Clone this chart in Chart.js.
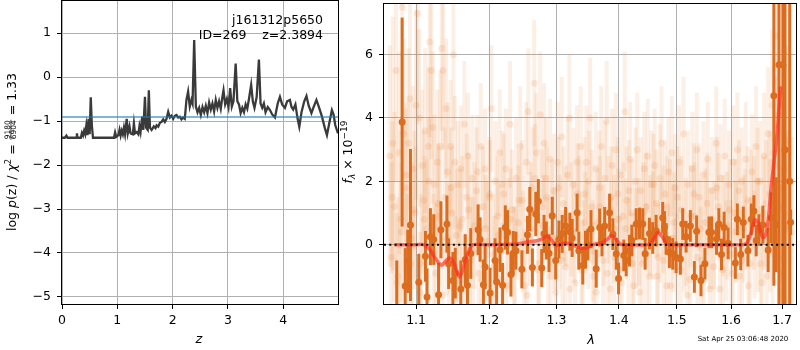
<!DOCTYPE html>
<html>
<head>
<meta charset="utf-8">
<script src="https://cdn.jsdelivr.net/npm/chart.js@4/dist/chart.umd.min.js"></script>
<style>
  body { margin: 0; background: #fff; }
  #wrap { position: relative; width: 800px; height: 350px; }
  canvas { position: absolute; top: 0; }
  #pz { left: 0; }
  #spec { left: 340px; }
</style>
</head>
<body>
<div id="wrap">
  <canvas id="pz" width="340" height="350"></canvas>
  <canvas id="spec" width="460" height="350"></canvas>
</div>
<script>
// redshift probability, log p(z)
const zGrid = [0.00, 0.05, 0.08, 0.10, 0.20, 0.26, 0.27, 0.28, 0.34, 0.36, 0.38, 0.40, 0.42, 0.44, 0.46, 0.48, 0.50, 0.52, 0.54, 0.56,
  0.62, 0.80, 0.90, 0.94, 0.96, 0.98, 1.02, 1.04, 1.06, 1.08, 1.10, 1.12, 1.14, 1.17, 1.19, 1.22, 1.24, 1.28, 1.30, 1.32,
  1.35, 1.38, 1.40, 1.42, 1.45, 1.47, 1.50, 1.52, 1.55, 1.57,
  1.59, 1.62, 1.66, 1.69, 1.71, 1.74, 1.77, 1.80, 1.83, 1.86, 1.89, 1.92, 1.95, 1.98, 2.01, 2.04, 2.07, 2.10, 2.13, 2.16,
  2.19, 2.22, 2.25, 2.28, 2.31, 2.34, 2.36, 2.39, 2.42, 2.45, 2.48, 2.51, 2.54, 2.57, 2.60, 2.63, 2.66, 2.69, 2.72, 2.75,
  2.78, 2.81, 2.84, 2.87, 2.90, 2.92, 2.95, 2.98, 3.01, 3.04, 3.07, 3.10, 3.14, 3.17, 3.20, 3.23, 3.26, 3.29, 3.32, 3.35,
  3.38, 3.42, 3.45, 3.48, 3.52, 3.56, 3.59, 3.62, 3.65, 3.68, 3.72, 3.76, 3.80, 3.85, 3.90, 3.94, 3.98, 4.03, 4.07, 4.12,
  4.15, 4.18, 4.22, 4.26, 4.29, 4.33, 4.38, 4.42, 4.46, 4.51, 4.55, 4.60, 4.65, 4.70, 4.75, 4.79, 4.84, 4.88, 4.91, 4.94, 4.99];
const logPz = [-1.38, -1.38, -1.33, -1.38, -1.38, -1.38, -1.28, -1.38, -1.38, -1.27, -1.33, -1.22, -1.30, -1.10, -1.32, -0.95, -1.30, -0.46, -1.10, -1.38,
  -1.38, -1.38, -1.38, -1.38, -1.26, -1.36, -1.32, -1.20, -1.33, -1.22, -1.30, -1.15, -1.30, -0.95, -1.28, -1.12, -1.28, -1.30, -1.05, -1.28,
  -1.25, -1.30, -1.12, -1.25, -0.90, -1.20, -0.45, -1.15, -1.20, -0.30,
  -1.15, -1.20, -1.12, -1.16, -1.10, -1.13, -1.04, -1.02, -0.96, -1.02, -0.95, -0.79, -0.92, -0.88, -0.95, -0.88, -0.86, -0.92, -0.90, -0.96,
  -0.92, -0.95, -0.52, -0.33, -0.67, -0.52, -0.60, 0.84, -0.67, -0.80, -0.70, -0.86, -0.68, -0.80, -0.65, -0.82, -0.58, -0.74, -0.60, -0.78,
  -0.52, -0.70, -0.55, -0.72, -0.45, -0.30, -0.62, -0.50, -0.68, -0.25, -0.67, -0.55, 0.31, -0.55, -0.62, -0.82, -0.70, -0.80, -0.62, -0.72,
  -0.50, -0.18, -0.55, -0.70, -0.45, 0.40, -0.60, -0.70, -0.60, -0.80, -0.68, -0.75, -0.85, -0.92, -0.60, -0.45, -0.62, -0.70, -0.55, -0.52,
  -0.68, -0.74, -0.62, -0.95, -1.13, -0.80, -0.55, -0.43, -0.65, -0.82, -0.68, -0.52, -0.70, -0.90, -1.15, -1.32, -1.00, -0.75, -0.85, -1.09, -1.28];
const chi2Level = -0.91;
const zTicks = [0, 1, 2, 3, 4];
const logPTicks = [-5, -4, -3, -2, -1, 0, 1];

// spectrum: individual exposures (faint) and combined points
const faintLam = [1.066, 1.068, 1.070, 1.072, 1.074, 1.076, 1.078, 1.080, 1.082, 1.084, 1.086, 1.088, 1.090, 1.092, 1.094, 1.096, 1.098, 1.100,
  1.102, 1.104, 1.106, 1.108, 1.110, 1.112, 1.114, 1.116, 1.118, 1.120, 1.122, 1.124, 1.126, 1.128, 1.130, 1.132, 1.134, 1.136, 1.138, 1.140,
  1.142, 1.144, 1.146, 1.148, 1.150, 1.152, 1.154, 1.156, 1.158, 1.160, 1.162, 1.165, 1.168, 1.170, 1.173, 1.176, 1.179, 1.182, 1.185, 1.188,
  1.191, 1.194, 1.197, 1.200, 1.203, 1.206, 1.209, 1.212, 1.215, 1.218, 1.221, 1.224, 1.227, 1.230, 1.233, 1.236, 1.239, 1.242, 1.245, 1.248,
  1.251, 1.254, 1.257, 1.260, 1.263, 1.266, 1.269, 1.272, 1.275, 1.278, 1.281, 1.284, 1.287, 1.290, 1.293, 1.296, 1.299, 1.302, 1.305, 1.308,
  1.311, 1.314, 1.317, 1.320, 1.323, 1.326, 1.329, 1.332, 1.335, 1.338, 1.341, 1.344, 1.347, 1.350, 1.353, 1.356, 1.359, 1.362, 1.365, 1.368,
  1.371, 1.374, 1.377, 1.380, 1.383, 1.386, 1.389, 1.392, 1.395, 1.398, 1.401, 1.404, 1.407, 1.410, 1.413, 1.416, 1.419, 1.422, 1.425, 1.428,
  1.431, 1.434, 1.437, 1.440, 1.443, 1.446, 1.449, 1.452, 1.455, 1.458, 1.461, 1.464, 1.467, 1.470, 1.473, 1.476, 1.479, 1.482, 1.485, 1.488,
  1.491, 1.494, 1.497, 1.500, 1.504, 1.508, 1.512, 1.516, 1.520, 1.524, 1.528, 1.532, 1.536, 1.540, 1.544, 1.548, 1.552, 1.556, 1.560, 1.564,
  1.568, 1.572, 1.576, 1.580, 1.584, 1.588, 1.592, 1.596, 1.600, 1.604, 1.608, 1.612, 1.616, 1.620, 1.624, 1.628, 1.632, 1.636, 1.640, 1.644,
  1.648, 1.652, 1.656, 1.660, 1.664, 1.668, 1.672, 1.676, 1.680, 1.684, 1.688, 1.692, 1.696, 1.700, 1.704, 1.708, 1.712, 1.716, 1.720];
const faintFlux = [2.8, -0.4, 3.2, 1.2, 5.5, -1.0, 2.9, 0.8, 7.5, 3.5, 1.8, -0.8, 3.2, 4.6, 0.2, 2.4, 1.1, 4.4,
  7.3, 4.0, -0.6, 2.5, 1.4, 3.6, 0.5, 3.1, 6.4, 5.5, 3.7, 1.9, -0.9, 2.6, 0.9, 3.1, 6.2, 5.5, 1.5, 4.3,
  2.3, -0.2, 3.1, 1.0, 6.0, 2.6, 0.3, 1.9, -1.2, 2.4, 0.8, 3.8, 1.5, 2.8, -0.5, 2.1, 0.6, 1.7, -0.9, 3.1,
  1.2, 2.4, 0.1, 1.5, 4.3, -0.3, 2.0, 0.9, 2.9, -1.1, 1.6, 2.4, 0.3, 3.8, 1.1, -0.6, 2.1, 0.7, 3.1, 1.4,
  -1.3, 2.6, 4.2, 0.5, 1.8, 5.1, 2.9, -0.8, 4.1, 1.2, 3.2, 2.1, -0.3, 2.7, 0.9, 1.7, -1.5, 2.6, 0.4, 3.4,
  1.3, -0.7, 2.2, 4.0, 0.8, 1.9, -1.2, 2.6, 1.0, 3.1, -0.3, 1.6, 2.6, 0.3, 4.0, 1.2, -1.0, 2.4, 0.7, 1.8,
  3.1, -0.5, 2.1, 3.9, 1.1, -1.4, 2.5, 0.5, 3.0, 1.6, -0.8, 2.2, 0.9, 4.2, 1.4, -0.2, 2.7, 1.0, -1.3, 2.0,
  3.0, 0.4, 1.7, -0.6, 2.4, 1.2, 2.8, -1.0, 1.9, 0.6, 2.5, 1.3, -0.4, 2.1, 3.2, 0.8, 1.6, -1.3, 2.3, 1.0,
  2.9, 0.2, 1.8, -0.7, 2.6, 1.1, 3.5, 0.4, 1.9, -1.1, 2.4, 0.9, 3.0, 1.5, -0.5, 2.2, 0.7, 2.7, -1.4, 1.7,
  0.3, 3.2, 1.2, 2.1, -0.8, 2.8, 0.6, 1.9, -0.3, 2.6, 1.0, 3.0, -1.0, 2.0, 0.5, 2.7, 1.4, -0.6, 2.3, 1.0,
  3.1, 0.3, 2.0, -1.2, 2.8, 1.3, 3.5, 0.6, 4.4, 2.9, 6.6, 4.1, 1.8, -0.9, 2.4, 0.5, 3.3, 1.0, 0.4];
const faintErr = [3.5, 3.0, 4.0, 3.0, 3.5, 2.5, 3.2, 2.8, 4.0, 3.0, 2.5, 2.4, 3.0, 3.5, 2.4, 2.6, 2.5, 3.0,
  3.5, 2.8, 2.2, 2.4, 2.2, 2.6, 2.2, 2.5, 3.0, 2.8, 2.4, 2.2, 2.2, 2.3, 2.2, 2.4, 2.6, 2.5, 2.2, 2.2,
  2.2, 2.1, 2.1, 2.1, 2.4, 2.1, 2.1, 2.0, 2.0, 2.0, 2.0, 2.0, 2.0, 2.0, 2.0, 2.0, 2.0, 2.0, 1.9, 2.0,
  1.9, 1.9, 1.9, 1.9, 2.0, 1.9, 1.9, 1.9, 2.0, 1.8, 1.9, 1.9, 1.8, 2.0, 1.9, 1.8, 1.9, 1.8, 1.9, 1.9,
  1.8, 1.9, 2.0, 1.8, 1.9, 2.0, 1.9, 1.8, 2.0, 1.8, 1.9, 1.9, 1.8, 1.9, 1.8, 1.8, 1.8, 1.9, 1.8, 1.9,
  1.8, 1.8, 1.8, 2.0, 1.8, 1.8, 1.7, 1.8, 1.8, 1.9, 1.7, 1.8, 1.8, 1.7, 1.9, 1.8, 1.7, 1.8, 1.7, 1.8,
  1.9, 1.7, 1.8, 1.9, 1.7, 1.7, 1.8, 1.7, 1.8, 1.8, 1.7, 1.8, 1.7, 1.9, 1.7, 1.7, 1.8, 1.7, 1.7, 1.7,
  1.8, 1.7, 1.7, 1.7, 1.8, 1.7, 1.8, 1.7, 1.7, 1.7, 1.8, 1.7, 1.7, 1.7, 1.8, 1.7, 1.7, 1.7, 1.7, 1.7,
  1.8, 1.7, 1.7, 1.7, 1.8, 1.7, 1.8, 1.7, 1.7, 1.7, 1.8, 1.7, 1.8, 1.7, 1.7, 1.7, 1.7, 1.8, 1.7, 1.7,
  1.7, 1.8, 1.7, 1.7, 1.7, 1.8, 1.7, 1.7, 1.7, 1.8, 1.7, 1.8, 1.7, 1.7, 1.7, 1.8, 1.7, 1.8, 1.8, 1.8,
  1.9, 1.8, 1.9, 1.9, 2.0, 2.0, 2.1, 2.1, 2.4, 2.8, 4.0, 3.5, 3.0, 2.8, 3.0, 2.8, 3.0, 3.0, 3.0];

// second exposure
const faint2Lam = [1.069, 1.075, 1.081, 1.087, 1.093, 1.099, 1.105, 1.111, 1.117, 1.123, 1.129, 1.135, 1.141, 1.147, 1.153, 1.159, 1.165, 1.171,
  1.177, 1.183, 1.189, 1.195, 1.201, 1.207, 1.213, 1.219, 1.225, 1.231, 1.237, 1.243, 1.249, 1.255, 1.261, 1.267, 1.273, 1.279, 1.285, 1.291,
  1.297, 1.303, 1.309, 1.315, 1.321, 1.327, 1.333, 1.339, 1.345, 1.351, 1.357, 1.363, 1.369, 1.375, 1.381, 1.387, 1.393, 1.399, 1.405, 1.411,
  1.417, 1.423, 1.429, 1.435, 1.441, 1.447, 1.453, 1.459, 1.465, 1.471, 1.477, 1.483, 1.489, 1.495, 1.501, 1.507, 1.513, 1.519, 1.525, 1.531,
  1.537, 1.543, 1.549, 1.555, 1.561, 1.567, 1.573, 1.579, 1.585, 1.591, 1.597, 1.603, 1.609, 1.615, 1.621, 1.627, 1.633, 1.639, 1.645, 1.651,
  1.657, 1.663, 1.669, 1.675, 1.681, 1.687, 1.693, 1.699, 1.705, 1.711];
const faint2Flux = [1.5, -1.2, 0.4, 2.2, -0.6, 1.0, -1.5, 0.8, 2.0, -0.3, 1.3, -1.6, 0.2, 1.8, -0.9, 0.6, -1.4, 1.1,
  -0.2, 2.3, -1.1, 0.5, 1.6, -0.7, 0.3, 1.9, -1.3, 0.8, -0.4, 1.4, 0.1, -1.6, 1.0, 2.1, -0.6, 0.6, 1.5, -1.0,
  0.2, 1.8, -0.5, 0.9, -1.4, 0.4, 1.6, -0.8, 0.7, 2.0, -0.2, -1.5, 1.2, 0.3, -0.9, 1.5, -0.4, 0.8, -1.2, 0.5,
  1.7, -0.6, 0.2, -1.5, 1.0, -0.3, 0.6, 1.9, -1.0, 0.4, -0.5, 1.2, -1.3, 0.7, 1.5, -0.8, 0.1, -1.6, 0.9, 1.6,
  -0.4, 0.5, -1.1, 1.3, 0.2, -0.7, 1.8, -1.4, 0.6, -0.2, 1.1, -0.9, 0.4, 1.7, -0.5, 0.8, -1.3, 1.4, 0.0, 2.0,
  -0.6, 1.0, -1.0, 1.6, 0.3, 2.5, -0.4, 1.2, 3.0, 0.6];
const faint2Err = [2.4, 2.2, 2.2, 2.3, 2.0, 2.1, 1.9, 2.0, 2.0, 1.9, 1.9, 1.8, 1.8, 1.9, 1.8, 1.8, 1.7, 1.8,
  1.7, 1.8, 1.7, 1.7, 1.7, 1.6, 1.6, 1.7, 1.6, 1.6, 1.6, 1.6, 1.6, 1.6, 1.6, 1.7, 1.6, 1.6, 1.6, 1.6,
  1.6, 1.6, 1.6, 1.6, 1.6, 1.6, 1.6, 1.6, 1.6, 1.6, 1.6, 1.6, 1.6, 1.6, 1.6, 1.6, 1.6, 1.6, 1.6, 1.6,
  1.6, 1.6, 1.6, 1.6, 1.6, 1.6, 1.6, 1.6, 1.6, 1.6, 1.6, 1.6, 1.6, 1.6, 1.6, 1.6, 1.6, 1.6, 1.6, 1.6,
  1.6, 1.6, 1.6, 1.6, 1.6, 1.6, 1.6, 1.6, 1.6, 1.6, 1.6, 1.6, 1.6, 1.6, 1.6, 1.6, 1.6, 1.6, 1.7, 1.7,
  1.8, 1.8, 1.9, 2.0, 2.4, 2.8, 3.0, 3.0, 3.5, 3.0];

const darkLam = [1.0750, 1.0819, 1.0858, 1.0892, 1.0927, 1.1035, 1.1123, 1.1144, 1.1189, 1.1233, 1.1298, 1.1330, 1.1411, 1.1434, 1.1492,
  1.1525, 1.1601, 1.1662, 1.1693, 1.1739, 1.1842, 1.1870, 1.1917, 1.1941, 1.2012, 1.2083, 1.2106, 1.2155, 1.2192, 1.2231, 1.2264,
  1.2314, 1.2347, 1.2387, 1.2475, 1.2558, 1.2593, 1.2632, 1.2683, 1.2722, 1.2773, 1.2808, 1.2843, 1.2884, 1.2934, 1.2987, 1.3037,
  1.3088, 1.3141, 1.3208, 1.3244, 1.3322, 1.3349, 1.3412, 1.3456, 1.3493, 1.3544, 1.3628, 1.3685, 1.3722, 1.3766, 1.3847, 1.3901,
  1.3957, 1.3995, 1.4083, 1.4123, 1.4179, 1.4218, 1.4292, 1.4348, 1.4404, 1.4445, 1.4519, 1.4576, 1.4635, 1.4750, 1.4780, 1.4810,
  1.4868, 1.4926, 1.4987, 1.5063, 1.5105, 1.5166, 1.5243, 1.5316, 1.5357, 1.5437, 1.5510, 1.5584, 1.5632, 1.5725, 1.5769, 1.5818,
  1.5868, 1.5943, 1.6081, 1.6119, 1.6184, 1.6234, 1.6324, 1.6388, 1.6440, 1.6485, 1.6538, 1.6616, 1.6721, 1.6780, 1.6835, 1.6880,
  1.6938, 1.7016, 1.7060, 1.7155, 1.7173];
const darkFlux = [-2.0, 3.87, -1.31, -0.53, 0.62, -1.19, -0.37, -1.65, 0.25, 0.16, -1.58, 0.47, 0.65, -0.60, -1.13,
  -0.90, -1.40, -0.47, -1.28, -0.28, 0.47, 0.16, -1.27, -0.71, -1.53, -0.50, -1.18, -0.16, -1.28, 0.54, 0.39,
  -0.94, -0.27, -0.19, -0.78, 0.31, 1.12, -0.72, 0.97, 1.37, -0.74, 0.34, 0.13, -0.27, 0.91, -0.50, 0.16,
  0.34, 0.59, 0.41, 0.21, 1.01, -0.19, -0.66, -0.16, 0.00, 0.49, -0.76, 0.54, 0.13, 0.59, 1.01, 0.33,
  -0.29, -1.07, -0.34, -0.50, -0.19, 0.13, 0.65, 0.67, 0.65, -0.29, 0.35, 0.21, 0.44, 0.85, 0.56, 0.18,
  -0.24, -0.29, -0.40, -0.45, 0.65, 0.25, 0.59, -1.02, 0.42, -1.13, -0.60, 0.39, 0.39, 0.18, 0.65, -0.31,
  0.54, 0.04, -0.58, 0.80, -0.31, 0.70, -0.19, 0.80, 1.06, 0.13, 0.46, 0.63, -0.17, 0.85, 4.70, 0.63,
  5.68, 5.68, 3.00, 2.00, 0.71];
const darkErr = [1.5, 3.3, 1.2, 1.0, 2.4, 0.9, 0.8, 0.9, 0.9, 0.8, 1.0, 0.9, 0.9, 0.8, 0.9,
  0.8, 0.9, 0.8, 0.8, 0.8, 0.8, 0.7, 0.8, 0.7, 0.8, 0.7, 0.7, 0.7, 0.7, 0.7, 0.7,
  0.7, 0.7, 0.6, 0.6, 0.6, 0.7, 0.6, 0.7, 0.7, 0.6, 0.6, 0.6, 0.6, 0.6, 0.6, 0.6,
  0.6, 0.6, 0.6, 0.6, 0.6, 0.6, 0.6, 0.6, 0.5, 0.6, 0.6, 0.6, 0.5, 0.6, 0.6, 0.5,
  0.5, 0.5, 0.5, 0.5, 0.5, 0.5, 0.5, 0.5, 0.5, 0.5, 0.5, 0.5, 0.5, 0.5, 0.5, 0.5,
  0.5, 0.5, 0.5, 0.5, 0.5, 0.5, 0.5, 0.5, 0.5, 0.5, 0.5, 0.5, 0.5, 0.5, 0.5, 0.5,
  0.5, 0.5, 0.5, 0.5, 0.5, 0.5, 0.5, 0.5, 0.5, 0.5, 0.5, 0.6, 0.7, 0.8, 6.0, 1.5,
  12.0, 12.0, 12.0, 12.0, 0.4];

// best-fit model
const modelLam = [1.072, 1.100, 1.110, 1.118, 1.126, 1.134, 1.140, 1.145, 1.150, 1.155, 1.158, 1.162, 1.167, 1.172, 1.177, 1.200,
  1.240, 1.255, 1.270, 1.278, 1.285, 1.291, 1.297, 1.303, 1.312, 1.320, 1.330, 1.340, 1.348, 1.358, 1.370, 1.380, 1.388, 1.395,
  1.402, 1.410, 1.450, 1.458, 1.466, 1.474, 1.482, 1.490, 1.620, 1.630, 1.638, 1.646, 1.652, 1.658, 1.663, 1.668, 1.673, 1.678,
  1.683, 1.690, 1.697];
const modelFlux = [0, 0, 0, -0.15, -0.45, -0.65, -0.50, -0.42, -0.55, -0.85, -1.02, -0.85, -0.45, -0.15, 0, 0,
  0.02, 0.08, 0.12, 0.18, 0.27, 0.18, 0.02, -0.02, 0.05, 0.04, -0.05, -0.12, -0.10, 0, 0.05, 0.15, 0.28, 0.18,
  0.02, 0, 0, 0.15, 0.38, 0.25, 0.02, 0, 0, 0.05, 0.35, 0.78, 0.70, 0.35, 0.22, 0.35, 0.90, 1.80,
  2.50, 3.50, 5.00];

const lamTicks = [1.1, 1.2, 1.3, 1.4, 1.5, 1.6, 1.7];
const fluxTicks = [0, 2, 4, 6];
const lamRange = [1.0588, 1.7284];

Chart.defaults.font.family = "'DejaVu Sans'";
Chart.defaults.color = '#000';

const FONT = "'DejaVu Sans'";
const pts = (xs, ys) => xs.map((x, i) => ({ x: x, y: ys[i] }));
const minus = (v) => (v < 0 ? '\u2212' + Math.abs(v) : String(v));

// vertical error bars from dataset.errs, drawn under the markers
const errorBars = {
  id: 'errorBars',
  beforeDatasetDraw(chart, args) {
    const ds = chart.data.datasets[args.index];
    if (!ds.errs) return;
    const { ctx, chartArea: a } = chart;
    const xs = chart.scales.x, ys = chart.scales.y;
    ctx.save();
    ctx.beginPath();
    ctx.rect(a.left, a.top, a.width, a.height);
    ctx.clip();
    ctx.strokeStyle = ds.barColor;
    ctx.lineWidth = ds.barWidth;
    ds.data.forEach((p, i) => {
      const px = xs.getPixelForValue(p.x);
      ctx.beginPath();
      ctx.moveTo(px, ys.getPixelForValue(p.y - ds.errs[i]));
      ctx.lineTo(px, ys.getPixelForValue(p.y + ds.errs[i]));
      ctx.stroke();
    });
    ctx.restore();
  }
};

// black box around the plotting area
const frame = {
  id: 'frame',
  afterDatasetsDraw(chart) {
    const { ctx, chartArea: a } = chart;
    ctx.save();
    ctx.strokeStyle = '#000';
    ctx.lineWidth = 1;
    ctx.strokeRect(a.left - 0.5, a.top - 0.5, a.width + 1, a.height + 1);
    ctx.restore();
  }
};

// rotated label made of pieces (sub/superscripts, a small fraction)
function drawRotated(ctx, cx, cy, pieces) {
  let total = 0;
  pieces.forEach(p => {
    ctx.font = p.font;
    p.w = p.frac
      ? Math.max(ctx.measureText(p.frac[0]).width, ctx.measureText(p.frac[1]).width) + 2
      : ctx.measureText(p.text).width;
    total += p.w;
  });
  ctx.save();
  ctx.translate(cx, cy);
  ctx.rotate(-Math.PI / 2);
  ctx.fillStyle = '#000';
  ctx.textBaseline = 'alphabetic';
  let x = -total / 2;
  pieces.forEach(p => {
    ctx.font = p.font;
    if (p.frac) {
      ctx.textAlign = 'center';
      ctx.fillText(p.frac[0], x + p.w / 2, -6);
      ctx.fillText(p.frac[1], x + p.w / 2, -0.5);
      ctx.fillRect(x + 0.5, -5.4, p.w - 1, 0.7);
      ctx.textAlign = 'left';
    } else {
      ctx.textAlign = 'left';
      ctx.fillText(p.text, x, p.dy || 0);
    }
    x += p.w;
  });
  ctx.restore();
}

const pzText = {
  id: 'pzText',
  afterDraw(chart) {
    const ctx = chart.ctx;
    ctx.save();
    ctx.fillStyle = '#000';
    ctx.font = `12.5px ${FONT}`;
    ctx.textAlign = 'right';
    ctx.fillText('j161312p5650', 323, 24);
    ctx.fillText('ID=269    z=2.3894', 323, 38.5);
    ctx.font = `italic 13px ${FONT}`;
    ctx.textAlign = 'center';
    ctx.textBaseline = 'middle';
    ctx.fillText('z', 199, 340);
    ctx.restore();
    const n = `12.5px ${FONT}`, it = `italic 12.5px ${FONT}`, sm = `7.5px ${FONT}`;
    drawRotated(ctx, 16, 152, [
      { text: 'log ', font: n }, { text: 'p', font: it }, { text: '(z) / ', font: n },
      { text: '\u03c7', font: it }, { text: '2', font: `8.5px ${FONT}`, dy: -5 },
      { text: ' = ', font: n }, { frac: ['9180', '6904'], font: sm }, { text: ' = 1.33', font: n }
    ]);
  }
};

const specText = {
  id: 'specText',
  afterDraw(chart) {
    const ctx = chart.ctx;
    ctx.save();
    ctx.fillStyle = '#000';
    ctx.font = `italic 13px ${FONT}`;
    ctx.textAlign = 'center';
    ctx.textBaseline = 'middle';
    ctx.fillText('\u03bb', 251, 341);
    ctx.font = `7px ${FONT}`;
    ctx.fillText('Sat Apr 25 03:06:48 2020', 403, 339);
    ctx.restore();
    drawRotated(ctx, 12, 152, [
      { text: 'f', font: `italic 12.5px ${FONT}` }, { text: '\u03bb', font: `italic 9px ${FONT}`, dy: 2.5 },
      { text: ' \u00d7 10', font: `12.5px ${FONT}` }, { text: '\u221219', font: `9px ${FONT}`, dy: -5 }
    ]);
  }
};

function axisCommon(ticks, fmt, size) {
  return {
    afterBuildTicks: (s) => { s.ticks = ticks.map(v => ({ value: v })); },
    afterFit: (s) => {
      if (s.isHorizontal()) { s.height = size; s.paddingLeft = 0; s.paddingRight = 0; }
      else { s.width = size; s.paddingTop = 0; s.paddingBottom = 0; }
    },
    grid: { color: '#b0b0b0', lineWidth: 1, tickColor: '#000', tickLength: 5 },
    border: { display: false },
    ticks: { callback: fmt, autoSkip: false, maxRotation: 0, padding: 4, font: { size: 12.5 }, color: '#000' }
  };
}

const baseOpts = {
  responsive: false,
  animation: false,
  devicePixelRatio: 1,
  plugins: { legend: { display: false }, tooltip: { enabled: false } }
};

const pzX = axisCommon(zTicks, minus, 46);
Object.assign(pzX, { type: 'linear', min: 0, max: 4.99 });
const pzY = axisCommon(logPTicks, minus, 62);
Object.assign(pzY, { type: 'linear', min: -5.16, max: 1.73 });
pzY.ticks.padding = 6;

new Chart(document.getElementById('pz'), {
  type: 'scatter',
  data: {
    datasets: [
      { data: [{ x: 0, y: chi2Level }, { x: 4.99, y: chi2Level }], showLine: true, pointRadius: 0,
        borderColor: 'rgba(31,119,180,0.55)', borderWidth: 2, order: 0 },
      { data: pts(zGrid, logPz), showLine: true, pointRadius: 0,
        borderColor: '#3a3a3a', borderWidth: 2.3, order: 1 }
    ]
  },
  options: Object.assign({}, baseOpts, {
    layout: { padding: { top: 1, right: 2, left: 0, bottom: 0 } },
    scales: { x: pzX, y: pzY }
  }),
  plugins: [frame, pzText]
});

const spX = axisCommon(lamTicks, (v) => Number(v).toFixed(1), 46);
Object.assign(spX, { type: 'logarithmic', min: lamRange[0], max: lamRange[1] });
const spY = axisCommon(fluxTicks, minus, 44);
Object.assign(spY, { type: 'linear', min: -1.875, max: 7.6 });
spY.ticks.padding = 6;

const orange = 'rgb(220,108,30)';
const faintBar = 'rgba(232,120,40,0.12)';
const faintDot = 'rgba(232,120,40,0.15)';

new Chart(document.getElementById('spec'), {
  type: 'scatter',
  data: {
    datasets: [
      { data: [{ x: lamRange[0], y: 0 }, { x: lamRange[1], y: 0 }], showLine: true, pointRadius: 0,
        borderColor: '#000', borderWidth: 2, borderDash: [2, 3.3], order: 0 },
      { data: pts(modelLam, modelFlux), showLine: true, pointRadius: 0, tension: 0.3, clip: 0,
        borderColor: 'rgba(255,45,30,0.65)', borderWidth: 3.5, order: 1 },
      { data: pts(darkLam, darkFlux), errs: darkErr, barColor: orange, barWidth: 3, clip: 0,
        pointRadius: 3.5, pointBackgroundColor: orange, pointBorderWidth: 0, order: 2 },
      { data: pts(faintLam, faintFlux), errs: faintErr, barColor: faintBar, barWidth: 4, clip: 0,
        pointRadius: 3.5, pointBackgroundColor: faintDot, pointBorderWidth: 0, order: 3 },
      { data: pts(faint2Lam, faint2Flux), errs: faint2Err, barColor: faintBar, barWidth: 4, clip: 0,
        pointRadius: 3.5, pointBackgroundColor: faintDot, pointBorderWidth: 0, order: 4 }
    ]
  },
  options: Object.assign({}, baseOpts, {
    layout: { padding: { top: 1, right: 2, left: 0, bottom: 0 } },
    scales: { x: spX, y: spY }
  }),
  plugins: [errorBars, frame, specText]
});
</script>
</body>
</html>
